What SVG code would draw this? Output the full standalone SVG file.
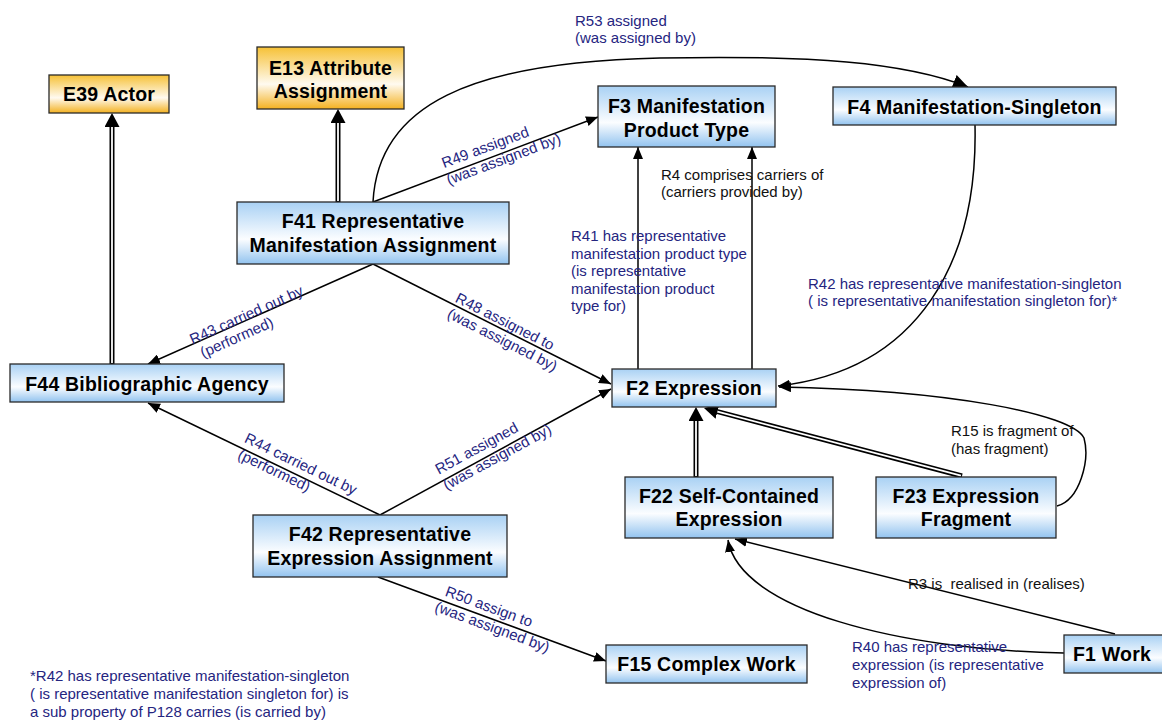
<svg xmlns="http://www.w3.org/2000/svg" width="1162" height="722" viewBox="0 0 1162 722">
<style>
.box{stroke:#2a2a2a;stroke-width:1.3}
.blue{fill:url(#gb)}
.orange{fill:url(#go)}
.n{font-family:"Liberation Sans",Arial,sans-serif;font-weight:bold;font-size:19.5px;letter-spacing:0.2px;text-anchor:middle;fill:#000}
.l{font-family:"Liberation Sans",Arial,sans-serif;font-size:15px;fill:#25257f}
.k{font-family:"Liberation Sans",Arial,sans-serif;font-size:15px;fill:#111}
.m{text-anchor:middle}
.c{fill:none;stroke:#000;stroke-width:1.5}
.isab{fill:none;stroke:#000;stroke-width:5}
.isaw{fill:none;stroke:#fff;stroke-width:1.8}
</style>
<defs>
<linearGradient id="gb" x1="0" y1="0" x2="0" y2="1">
<stop offset="0" stop-color="#a9d1f4"/>
<stop offset="0.6" stop-color="#fbfdff"/>
<stop offset="1" stop-color="#92c3ef"/>
</linearGradient>
<linearGradient id="go" x1="0" y1="0" x2="0" y2="1">
<stop offset="0" stop-color="#f6c136"/>
<stop offset="0.6" stop-color="#fffaf0"/>
<stop offset="1" stop-color="#f3b120"/>
</linearGradient>
<marker id="arr" markerUnits="userSpaceOnUse" markerWidth="12" markerHeight="10" viewBox="0 0 12 10" refX="12" refY="5" orient="auto">
<path d="M0,0 L12,5 L0,10 z" fill="#000"/>
</marker>
<marker id="arrL" markerUnits="userSpaceOnUse" markerWidth="15" markerHeight="14" viewBox="0 0 15 14" refX="15" refY="7" orient="auto">
<path d="M0,0 L15,7 L0,14 z" fill="#000"/>
</marker>
<marker id="isa" markerUnits="userSpaceOnUse" markerWidth="14" markerHeight="15" viewBox="0 0 14 15" refX="0" refY="7.5" orient="auto">
<path d="M0,0 L14,7.5 L0,15 z" fill="#000"/>
</marker>
</defs>
<g id="connectors">
<path class="isab" d="M112,364 L112,127" marker-end="url(#isa)"/>
<path class="isaw" d="M112,363 L112,127"/>
<path class="isab" d="M338,202 L338,123" marker-end="url(#isa)"/>
<path class="isaw" d="M338,201 L338,123"/>
<path class="isab" d="M696,477 L696,421" marker-end="url(#isa)"/>
<path class="isaw" d="M696,476 L696,421"/>
<path class="isab" d="M962,476 L717.5,411.6" marker-end="url(#isa)"/>
<path class="isaw" d="M961,475.7 L717.5,411.6"/>
<path class="c" d="M373,202 L598,117" marker-end="url(#arr)"/>
<path class="c" d="M373,202 C378,105 470,62 660,58 C810,55 905,62 968,87" marker-end="url(#arrL)"/>
<path class="c" d="M638,369 L638,147" marker-end="url(#arr)"/>
<path class="c" d="M752,369 L752,147" marker-end="url(#arr)"/>
<path class="c" d="M975,125 C978,260 920,370 778,386" marker-end="url(#arr)"/>
<path class="c" d="M373,264 L148,364" marker-end="url(#arr)"/>
<path class="c" d="M373,264 L611,384" marker-end="url(#arr)"/>
<path class="c" d="M380,515 L148,403" marker-end="url(#arr)"/>
<path class="c" d="M380,515 L611,389" marker-end="url(#arr)"/>
<path class="c" d="M378,577 L606,661" marker-end="url(#arr)"/>
<path class="c" d="M1057,506 C1080,500 1090,460 1084,438 C1072,414 950,390 779,387" marker-end="url(#arr)"/>
<path class="c" d="M1115,634 L735,539" marker-end="url(#arr)"/>
<path class="c" d="M1064,653 C900,650 740,610 728,540" marker-end="url(#arr)"/>
<text class="l" x="575" y="26">R53 assigned</text>
<text class="l" x="575" y="43">(was assigned by)</text>
<g transform="translate(487,152) rotate(-20.6)"><text class="l m" x="0" y="0">R49 assigned</text><text class="l m" x="13" y="17.5">(was assigned by)</text></g>
<text class="k" x="661" y="180">R4 comprises carriers of</text>
<text class="k" x="661" y="197">(carriers provided by)</text>
<text class="l" x="571" y="241">R41 has representative</text>
<text class="l" x="571" y="259">manifestation product type</text>
<text class="l" x="571" y="276">(is representative</text>
<text class="l" x="571" y="294">manifestation product</text>
<text class="l" x="571" y="311">type for)</text>
<text class="l" x="808" y="289">R42 has representative manifestation-singleton</text>
<text class="l" x="808" y="306">( is representative manifestation singleton for)*</text>
<g transform="translate(248.5,319.6) rotate(-24.2)"><text class="l m" x="0" y="0">R43 carried out by</text><text class="l m" x="-18" y="16.5">(performed)</text></g>
<g transform="translate(502.7,326) rotate(26.9)"><text class="l m" x="0" y="0">R48 assigned to</text><text class="l m" x="6" y="17.5">(was assigned by)</text></g>
<g transform="translate(298.6,468.5) rotate(25.8)"><text class="l m" x="0" y="0">R44 carried out by</text><text class="l m" x="-21" y="17.5">(performed)</text></g>
<g transform="translate(479,452.7) rotate(-28.6)"><text class="l m" x="0" y="0">R51 assigned</text><text class="l m" x="14" y="17.5">(was assigned by)</text></g>
<g transform="translate(487.3,611.4) rotate(20.2)"><text class="l m" x="0" y="0">R50 assign to</text><text class="l m" x="10" y="18">(was assigned by)</text></g>
<text class="k" x="951" y="436">R15 is fragment of</text>
<text class="k" x="951" y="454">(has fragment)</text>
<text class="k" x="908" y="589" xml:space="preserve">R3 is  realised in (realises)</text>
<text class="l" x="852" y="652">R40 has representative</text>
<text class="l" x="852" y="670">expression (is representative</text>
<text class="l" x="852" y="688">expression of)</text>
<text class="l" x="30" y="681">*R42 has representative manifestation-singleton</text>
<text class="l" x="30" y="699">( is representative manifestation singleton for) is</text>
<text class="l" x="30" y="717">a sub property of P128 carries (is carried by)</text>
</g>
<g id="E39"><rect class="box orange" x="49" y="75" width="120" height="38"/><text class="n" x="109" y="100.5">E39 Actor</text></g>
<g id="E13"><rect class="box orange" x="257" y="47" width="147" height="62"/><text class="n" x="330.5" y="75">E13 Attribute</text><text class="n" x="330.5" y="98">Assignment</text></g>
<g id="F3"><rect class="box blue" x="598" y="86" width="177" height="61"/><text class="n" x="686.5" y="113">F3 Manifestation</text><text class="n" x="686.5" y="137">Product Type</text></g>
<g id="F4"><rect class="box blue" x="833" y="87" width="283" height="38"/><text class="n" x="974.5" y="113.5">F4 Manifestation-Singleton</text></g>
<g id="F41"><rect class="box blue" x="237" y="202" width="272" height="62"/><text class="n" x="373" y="228">F41 Representative</text><text class="n" x="373" y="252">Manifestation Assignment</text></g>
<g id="F44"><rect class="box blue" x="10" y="364" width="274" height="38"/><text class="n" x="147" y="390.5">F44 Bibliographic Agency</text></g>
<g id="F2"><rect class="box blue" x="612" y="369" width="164" height="38"/><text class="n" x="694" y="394.5">F2 Expression</text></g>
<g id="F22"><rect class="box blue" x="625" y="477" width="208" height="61"/><text class="n" x="729" y="503">F22 Self-Contained</text><text class="n" x="729" y="526">Expression</text></g>
<g id="F23"><rect class="box blue" x="876" y="477" width="180" height="61"/><text class="n" x="966" y="503">F23 Expression</text><text class="n" x="966" y="526">Fragment</text></g>
<g id="F42"><rect class="box blue" x="253" y="515" width="254" height="62"/><text class="n" x="380" y="541">F42 Representative</text><text class="n" x="380" y="565">Expression Assignment</text></g>
<g id="F15"><rect class="box blue" x="606" y="645" width="201" height="38"/><text class="n" x="706.5" y="671">F15 Complex Work</text></g>
<g id="F1"><rect class="box blue" x="1064" y="635" width="120" height="38"/><text class="n" x="1073" y="660.5" style="text-anchor:start">F1 Work</text></g>
</svg>
